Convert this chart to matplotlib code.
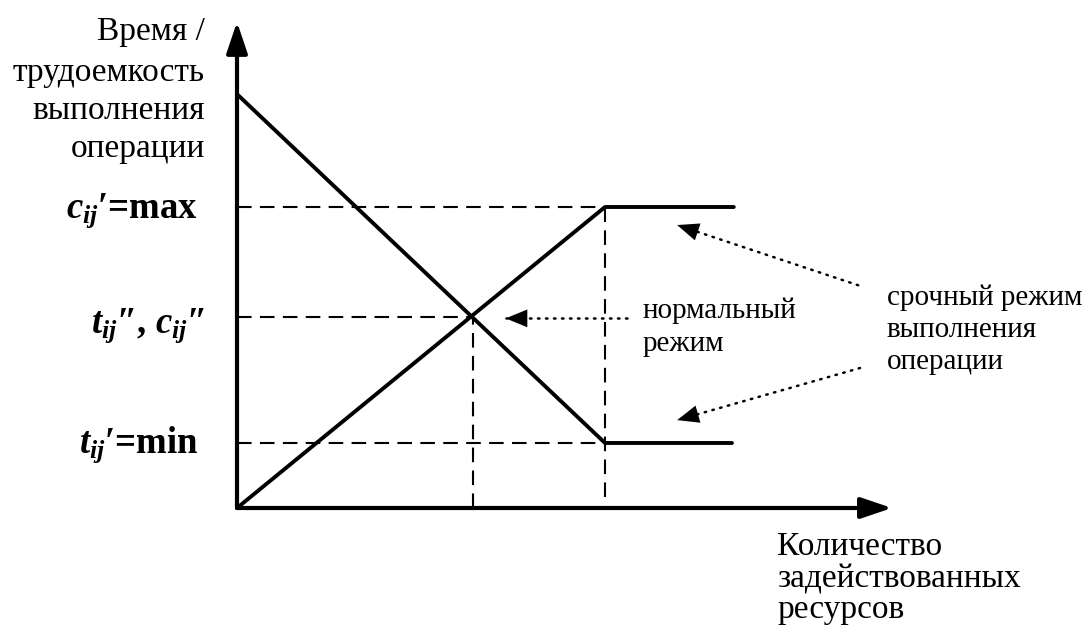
import matplotlib
matplotlib.use("Agg")
import matplotlib.pyplot as plt

# ---- data (conceptual units) ----
x_time = [0.0, 10.0, 13.45]          # time / labour intensity vs resources
y_time = [13.75, 2.16, 2.16]
x_cost = [0.0, 10.0, 13.5]           # cost vs resources
y_cost = [0.0, 10.0, 10.0]
x_normal, y_normal = 6.4, 6.33        # normal mode point
x_crash = 10.0
c_max, t_min = 10.0, 2.16
x_axis_end, y_axis_end = 17.8, 16.15

# annotation arrows (tail -> tip)
arrow_normal = [(10.6, 6.3), (7.3, 6.3)]
arrow_top = [(16.88, 7.4), (11.96, 9.4)]
arrow_bot = [(16.93, 4.65), (11.96, 2.92)]

W, H = 1084, 637
X0, Y0 = 237, 508        # pixel of origin
SX, SY = 36.8, 30.1      # pixels per unit

plt.rcParams['mathtext.fontset'] = 'custom'
plt.rcParams['mathtext.it'] = 'Liberation Serif:italic:bold'
plt.rcParams['mathtext.rm'] = 'Liberation Serif:bold'
plt.rcParams['mathtext.bf'] = 'Liberation Serif:bold'

fig = plt.figure(figsize=(W / 100, H / 100), dpi=100)
ax = fig.add_axes([0, 0, 1, 1])
ax.set_xlim(-X0 / SX, (W - X0) / SX)
ax.set_ylim(-(H - Y0) / SY, Y0 / SY)
ax.axis('off')

def d(px, py):
    return ((px - X0) / SX, (Y0 - py) / SY)

# axes with arrows
for tip in [(0, y_axis_end), (x_axis_end, 0)]:
    ax.annotate('', xy=tip, xytext=(0, 0),
                arrowprops=dict(arrowstyle='-|>,head_length=0.95,head_width=0.32', lw=3.0,
                                color='k', shrinkA=0, shrinkB=0, mutation_scale=20))

# dashed guides
dash = dict(color='k', lw=1.5, dashes=(7.0, 4.0))
ax.plot([0, x_crash], [c_max, c_max], **dash)
ax.plot([0, x_normal], [y_normal, y_normal], **dash)
ax.plot([0, x_crash], [t_min, t_min], **dash)
ax.plot([x_normal, x_normal], [0, y_normal], **dash)
ax.plot([x_crash, x_crash], [0.35, c_max], **dash)

# main lines
ax.plot(x_time, y_time, color='k', lw=2.8, solid_capstyle='round', solid_joinstyle='round')
ax.plot(x_cost, y_cost, color='k', lw=2.8, solid_capstyle='round', solid_joinstyle='round')

# dotted annotation arrows
for (tail, tip) in (arrow_normal, arrow_top, arrow_bot):
    ax.plot([tail[0], tip[0]], [tail[1], tip[1]], color='k', lw=1.8, dashes=(0.6, 2.6),
            dash_capstyle='round')
    bx = tip[0] + (tail[0] - tip[0]) * 0.25
    by = tip[1] + (tail[1] - tip[1]) * 0.25
    ax.annotate('', xy=tip, xytext=(bx, by),
                arrowprops=dict(arrowstyle='-|>,head_length=0.78,head_width=0.32', lw=0.01,
                                color='k', shrinkA=0, shrinkB=0, mutation_scale=20,
                                linestyle='none'))

serif = 'Liberation Serif'
fs_big = 24
fs = 21

# y-axis label
for txt, py in [('Время /', 40), ('трудоемкость', 81), ('выполнения', 119), ('операции', 157)]:
    ax.text(*d(205, py), txt, ha='right', va='baseline', fontsize=fs_big, family=serif)

# x-axis label
for txt, py in [('Количество', 555), ('задействованных', 587), ('ресурсов', 618)]:
    ax.text(*d(777, py), txt, ha='left', va='baseline', fontsize=fs_big, family=serif)

# normal mode
for txt, py in [('нормальный', 318), ('режим', 351)]:
    ax.text(*d(643, py), txt, ha='left', va='baseline', fontsize=fs, family=serif)

# crash mode
for txt, py in [('срочный режим', 305), ('выполнения', 337), ('операции', 369)]:
    ax.text(*d(887, py), txt, ha='left', va='baseline', fontsize=fs, family=serif)

# bold labels
bfs = 26.5
ax.text(*d(198, 218), r"$c_{ij}$′=max", ha='right', va='baseline', fontsize=bfs,
        family=serif, fontweight='bold')
ax.text(*d(205, 333), r"$t_{ij}$″, $c_{ij}$″", ha='right', va='baseline', fontsize=bfs,
        family=serif, fontweight='bold')
ax.text(*d(198, 453), r"$t_{ij}$′=min", ha='right', va='baseline', fontsize=bfs,
        family=serif, fontweight='bold')

fig.savefig('out.png', dpi=100)
